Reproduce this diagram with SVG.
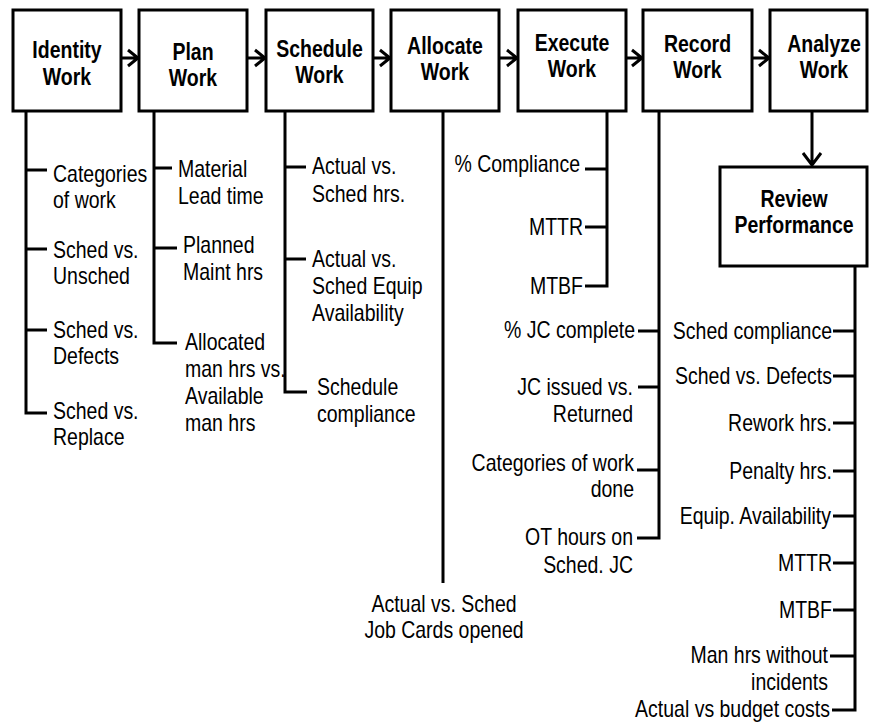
<svg xmlns="http://www.w3.org/2000/svg" width="869" height="724" viewBox="0 0 869 724">
<style>
.box{fill:#fff;stroke:#000;stroke-width:3}
.ln{fill:none;stroke:#000;stroke-width:3}
.t{font-family:"Liberation Sans",Arial,sans-serif;font-size:19.5px;fill:#000}
.b{font-weight:bold;text-anchor:middle}
.e{text-anchor:end}
</style>
<rect width="869" height="724" fill="#fff"/>
<g id="connectors">
  <!-- flow arrows -->
  <path class="ln" d="M121,58H138M128,50L138,58L128,66"/>
  <path class="ln" d="M247,58H265M255,50L265,58L255,66"/>
  <path class="ln" d="M373,58H390M380,50L390,58L380,66"/>
  <path class="ln" d="M499,58H517M507,50L517,58L507,66"/>
  <path class="ln" d="M626,58H642M632,50L642,58L632,66"/>
  <path class="ln" d="M752,58H769M759,50L769,58L759,66"/>
  <path class="ln" d="M812,111V165M803,153L812,165L821,153"/>
  <!-- Identify -->
  <path class="ln" d="M26,111V413H47M26,170H47M26,249H47M26,330H47"/>
  <!-- Plan -->
  <path class="ln" d="M154,111V343H177M154,168H172M154,248H177"/>
  <!-- Schedule -->
  <path class="ln" d="M285,111V392H307M285,167H306M285,259H306"/>
  <!-- Allocate -->
  <path class="ln" d="M443,111V583"/>
  <!-- Execute -->
  <path class="ln" d="M607,111V286H585M607,169H585M607,227H585"/>
  <!-- Record -->
  <path class="ln" d="M659,111V538H637M659,331H638M659,387H638M659,470H637"/>
  <!-- Review -->
  <path class="ln" d="M855,266V710H832M855,331H833M855,376H833M855,423H833M855,471H833M855,516H833M855,563H833M855,610H833M855,656H830"/>
</g>
<g id="identify-work">
  <rect class="box" x="13" y="10" width="108" height="101"/>
  <text class="t b" transform="translate(67,58) scale(1,1.2)"><tspan x="0">Identity</tspan><tspan x="0" dy="22.5">Work</tspan></text>
</g>
<g id="plan-work">
  <rect class="box" x="139" y="10" width="108" height="101"/>
  <text class="t b" transform="translate(193,60) scale(1,1.2)"><tspan x="0">Plan</tspan><tspan x="0" dy="22">Work</tspan></text>
</g>
<g id="schedule-work">
  <rect class="box" x="266" y="10" width="107" height="101"/>
  <text class="t b" transform="translate(319.5,57) scale(1,1.2)"><tspan x="0">Schedule</tspan><tspan x="0" dy="22">Work</tspan></text>
</g>
<g id="allocate-work">
  <rect class="box" x="391" y="10" width="108" height="101"/>
  <text class="t b" transform="translate(445,54) scale(1,1.2)"><tspan x="0">Allocate</tspan><tspan x="0" dy="22">Work</tspan></text>
</g>
<g id="execute-work">
  <rect class="box" x="518" y="10" width="108" height="101"/>
  <text class="t b" transform="translate(572,51) scale(1,1.2)"><tspan x="0">Execute</tspan><tspan x="0" dy="22">Work</tspan></text>
</g>
<g id="record-work">
  <rect class="box" x="643" y="10" width="109" height="101"/>
  <text class="t b" transform="translate(697.5,52) scale(1,1.2)"><tspan x="0">Record</tspan><tspan x="0" dy="22">Work</tspan></text>
</g>
<g id="analyze-work">
  <rect class="box" x="770" y="10" width="97" height="101"/>
  <text class="t b" transform="translate(824,52) scale(1,1.2)"><tspan x="0">Analyze</tspan><tspan x="0" dy="22">Work</tspan></text>
</g>
<g id="review-performance">
  <rect class="box" x="720" y="167" width="147" height="99"/>
  <text class="t b" transform="translate(794,207) scale(1,1.2)"><tspan x="0">Review</tspan><tspan x="0" dy="22">Performance</tspan></text>
</g>
<g id="identify-metrics">
  <text class="t" transform="translate(53,182) scale(1,1.2)"><tspan x="0">Categories</tspan><tspan x="0" dy="22">of work</tspan></text>
  <text class="t" transform="translate(53,258) scale(1,1.2)"><tspan x="0">Sched vs.</tspan><tspan x="0" dy="22">Unsched</tspan></text>
  <text class="t" transform="translate(53,338) scale(1,1.2)"><tspan x="0">Sched vs.</tspan><tspan x="0" dy="22">Defects</tspan></text>
  <text class="t" transform="translate(53,419) scale(1,1.2)"><tspan x="0">Sched vs.</tspan><tspan x="0" dy="22">Replace</tspan></text>
</g>
<g id="plan-metrics">
  <text class="t" transform="translate(178,177) scale(1,1.2)"><tspan x="0">Material</tspan><tspan x="0" dy="22.5">Lead time</tspan></text>
  <text class="t" transform="translate(183,253) scale(1,1.2)"><tspan x="0">Planned</tspan><tspan x="0" dy="22.5">Maint hrs</tspan></text>
  <text class="t" transform="translate(185,350) scale(1,1.2)"><tspan x="0">Allocated</tspan><tspan x="0" dy="22.5">man hrs vs.</tspan><tspan x="0" dy="22.5">Available</tspan><tspan x="0" dy="22.5">man hrs</tspan></text>
</g>
<g id="schedule-metrics">
  <text class="t" transform="translate(312,174) scale(1,1.2)"><tspan x="0">Actual vs.</tspan><tspan x="0" dy="23">Sched hrs.</tspan></text>
  <text class="t" transform="translate(312,267) scale(1,1.2)"><tspan x="0">Actual vs.</tspan><tspan x="0" dy="22.7">Sched Equip</tspan><tspan x="0" dy="22.7">Availability</tspan></text>
  <text class="t" transform="translate(317,395) scale(1,1.2)"><tspan x="0">Schedule</tspan><tspan x="0" dy="22.5">compliance</tspan></text>
</g>
<g id="allocate-metrics">
  <text class="t b" style="font-weight:normal" transform="translate(444,612) scale(1,1.2)"><tspan x="0">Actual vs. Sched</tspan><tspan x="0" dy="21.7">Job Cards opened</tspan></text>
</g>
<g id="execute-metrics">
  <text class="t e" transform="translate(580,172) scale(1,1.2)">% Compliance</text>
  <text class="t e" transform="translate(583,235) scale(1,1.2)">MTTR</text>
  <text class="t e" transform="translate(583,294) scale(1,1.2)">MTBF</text>
</g>
<g id="record-metrics">
  <text class="t e" transform="translate(635,338) scale(1,1.2)">% JC complete</text>
  <text class="t e" transform="translate(633,395) scale(1,1.2)"><tspan x="0">JC issued vs.</tspan><tspan x="0" dy="22.5">Returned</tspan></text>
  <text class="t e" transform="translate(634,471) scale(1,1.2)"><tspan x="0">Categories of work</tspan><tspan x="0" dy="21.7">done</tspan></text>
  <text class="t e" transform="translate(633,545) scale(1,1.2)"><tspan x="0">OT hours on</tspan><tspan x="0" dy="23.3">Sched. JC</tspan></text>
</g>
<g id="review-metrics">
  <text class="t e" transform="translate(832,339) scale(1,1.2)">Sched compliance</text>
  <text class="t e" transform="translate(832,384) scale(1,1.2)">Sched vs. Defects</text>
  <text class="t e" transform="translate(832,431) scale(1,1.2)">Rework hrs.</text>
  <text class="t e" transform="translate(832,479) scale(1,1.2)">Penalty hrs.</text>
  <text class="t e" transform="translate(831,524) scale(1,1.2)">Equip. Availability</text>
  <text class="t e" transform="translate(832,571) scale(1,1.2)">MTTR</text>
  <text class="t e" transform="translate(832,618) scale(1,1.2)">MTBF</text>
  <text class="t e" transform="translate(828,663) scale(1,1.2)"><tspan x="0">Man hrs without</tspan><tspan x="0" dy="22.5">incidents</tspan></text>
  <text class="t e" transform="translate(830,717) scale(1,1.2)">Actual vs budget costs</text>
</g>
</svg>
